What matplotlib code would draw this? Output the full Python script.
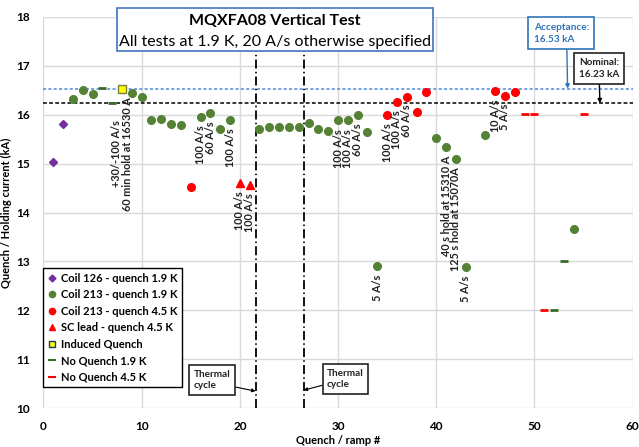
import matplotlib
matplotlib.use("Agg")
import matplotlib.pyplot as plt
from matplotlib.lines import Line2D
from matplotlib.patches import Rectangle

plt.rcParams['font.family'] = ['Lato', 'DejaVu Sans']

# ---- data ----
coil126_x = [1, 2]
coil126_y = [15.03, 15.81]

coil213_19_x = [3, 4, 5, 9, 10, 11, 12, 13, 14, 16, 17, 18, 19, 22, 23, 24, 25, 26,
                27, 28, 29, 30, 31, 32, 33, 34, 40, 41, 42, 43, 45, 54]
coil213_19_y = [16.32, 16.50, 16.42, 16.45, 16.37, 15.88, 15.91, 15.81, 15.78, 15.95,
                16.04, 15.71, 15.89, 15.71, 15.74, 15.74, 15.75, 15.74, 15.83, 15.71,
                15.67, 15.88, 15.88, 16.00, 15.65, 12.91, 15.52, 15.33, 15.09, 12.89,
                15.58, 13.66]

coil213_45_x = [15, 35, 36, 37, 38, 39, 46, 47, 48]
coil213_45_y = [14.52, 15.99, 16.26, 16.37, 16.06, 16.46, 16.48, 16.39, 16.47]

sclead_x = [20, 21]
sclead_y = [14.61, 14.56]

induced_x = [8]
induced_y = [16.53]

noq19_x = [6, 7, 52, 53]
noq19_y = [16.54, 16.23, 12.0, 13.0]

noq45_x = [49, 50, 51, 55]
noq45_y = [16.01, 16.01, 12.0, 16.01]

acceptance = 16.53
nominal = 16.23
thermal_cycles = [21.6, 26.5]

label_texts = ["+30/-100 A/s\n60 min hold at 16530 A", "100 A/s", "60 A/s", "100 A/s",
               "100 A/s", "100 A/s", "100 A/s", "100 A/s", "60 A/s", "5 A/s",
               "100 A/s", "100 A/s", "60 A/s", "40 s hold at 15310 A",
               "125 s hold at 15070A", "5 A/s", "10 A/s", "5 A/s"]
label_x = [8, 16, 17, 19, 20, 21, 30, 31, 32, 34, 35, 36, 37, 41, 42, 43, 46, 47]
label_y = [16.53, 15.95, 16.04, 15.89, 14.61, 14.56, 15.88, 15.88, 16.00, 12.91,
           15.99, 16.26, 16.37, 15.33, 15.09, 12.89, 16.48, 16.39]

xticks = [0, 10, 20, 30, 40, 50, 60]
yticks = [10, 11, 12, 13, 14, 15, 16, 17, 18]

# ---- colours ----
purple = '#7030A0'
green = '#548235'
red = '#FF0000'
blue_line = '#4A8AD8'

fig = plt.figure(figsize=(6.39, 4.47), dpi=100)
ax = fig.add_axes([0.068, 0.0866, 0.922, 0.876])

ax.set_xlim(0, 60)
ax.set_ylim(10, 18)
ax.set_xticks(xticks)
ax.set_yticks(yticks)
ax.grid(True, color='#D9D9D9', lw=1)
ax.set_axisbelow(True)
for s in ax.spines.values():
    s.set_visible(False)
ax.tick_params(length=0, labelsize=8.5)
ax.tick_params(axis='y', pad=10)
ax.tick_params(axis='x', pad=9)
for t in ax.get_xticklabels() + ax.get_yticklabels():
    t.set_fontweight('bold')
ax.set_xlabel('Quench / ramp #', fontsize=8, fontweight='bold', labelpad=2)
ax.set_ylabel('Quench / Holding current (kA)', fontsize=8, fontweight='bold', labelpad=3)

# reference lines
ax.axhline(acceptance, color=blue_line, lw=1.1, ls=(0, (2, 1.5)), zorder=2)
ax.axhline(nominal, color='black', lw=1.1, ls=(0, (2.5, 1.5)), zorder=2)
for xv in thermal_cycles:
    ax.axvline(xv, color='black', lw=1.3, ls=(0, (5, 1.8, 0.8, 1.8)), zorder=2)

# data
ax.plot(coil126_x, coil126_y, ls='none', marker='D', ms=4.2, color=purple, zorder=4)
ax.plot(coil213_19_x, coil213_19_y, ls='none', marker='o', ms=5.5, color=green, zorder=4)
ax.plot(coil213_45_x, coil213_45_y, ls='none', marker='o', ms=5.5, color=red, zorder=4)
ax.plot(sclead_x, sclead_y, ls='none', marker='^', ms=6, color=red, zorder=4)
ax.plot(induced_x, induced_y, ls='none', marker='s', ms=5.5, mfc='#FFFF00',
        mec='#7F7F3F', mew=1.0, zorder=5)
ax.plot(noq19_x, noq19_y, ls='none', marker='_', ms=6, mew=2, color='#3A6B28', zorder=4)
ax.plot(noq45_x, noq45_y, ls='none', marker='_', ms=6, mew=2, color=red, zorder=4)

# data labels (rotated, below points)
for txt, lx, ly in zip(label_texts, label_x, label_y):
    ax.annotate(txt, xy=(lx, ly), xytext=(0, -6), textcoords='offset points',
                rotation=90, ha='center', va='top', multialignment='center',
                fontsize=7.8, fontweight='bold', color='#222222',
                linespacing=0.95, zorder=6)

# title box
fig.text(0.4305, 0.9535, 'MQXFA08 Vertical Test', ha='center', va='center',
         fontsize=11.5, fontweight='bold', zorder=10)
fig.text(0.4305, 0.906, 'All tests at 1.9 K, 20 A/s otherwise specified',
         ha='center', va='center', fontsize=11.5, zorder=10)
fig.patches.append(Rectangle((117 / 639, 1 - 51 / 447), (433 - 117) / 639, 43 / 447,
                             transform=fig.transFigure, facecolor='white',
                             edgecolor='#4472C4', lw=1.2, zorder=9))

# acceptance / nominal boxes
ax.annotate('Acceptance:\n16.53 kA', xy=(53.38, acceptance), xytext=(52.73, 17.66),
            ha='center', va='center', fontsize=7.2, fontweight='bold', color='#2E75B6',
            multialignment='left', linespacing=1.4,
            bbox=dict(boxstyle='square,pad=0.55', fc='white', ec='#2E75B6', lw=1.2),
            arrowprops=dict(arrowstyle='-|>', color='#2E75B6', lw=1.0, mutation_scale=6,
                            relpos=(0.6, 0), shrinkA=0, shrinkB=0), zorder=7)
ax.annotate('Nominal:\n16.23 kA', xy=(56.67, nominal), xytext=(56.6, 16.95),
            ha='center', va='center', fontsize=7.2, fontweight='bold', color='#222222',
            multialignment='left', linespacing=1.4,
            bbox=dict(boxstyle='square,pad=0.5', fc='white', ec='#222222', lw=1.2),
            arrowprops=dict(arrowstyle='-|>', color='black', lw=1.0, mutation_scale=6,
                            relpos=(0.5, 0), shrinkA=0, shrinkB=0), zorder=7)

# thermal cycle boxes
ax.annotate('Thermal\ncycle', xy=(thermal_cycles[0], 10.35), xytext=(17.2, 10.58),
            ha='center', va='center', fontsize=7.2, fontweight='bold', color='#222222',
            multialignment='left', linespacing=1.35,
            bbox=dict(boxstyle='square,pad=0.45', fc='white', ec='#222222', lw=1.2),
            arrowprops=dict(arrowstyle='-|>', color='black', lw=0.8, mutation_scale=5,
                            relpos=(1, 0.2), shrinkA=0, shrinkB=0), zorder=7)
ax.annotate('Thermal\ncycle', xy=(thermal_cycles[1], 10.37), xytext=(30.75, 10.6),
            ha='center', va='center', fontsize=7.2, fontweight='bold', color='#222222',
            multialignment='left', linespacing=1.35,
            bbox=dict(boxstyle='square,pad=0.45', fc='white', ec='#222222', lw=1.2),
            arrowprops=dict(arrowstyle='-|>', color='black', lw=0.8, mutation_scale=5,
                            relpos=(0, 0.25), shrinkA=0, shrinkB=0), zorder=7)

# legend
handles = [
    Line2D([], [], ls='none', marker='D', ms=3.5, color=purple),
    Line2D([], [], ls='none', marker='o', ms=4.5, color=green),
    Line2D([], [], ls='none', marker='o', ms=4.5, color=red),
    Line2D([], [], ls='none', marker='^', ms=4.5, color=red),
    Line2D([], [], ls='none', marker='s', ms=4.5, mfc='#FFFF00', mec='#1F3864', mew=1),
    Line2D([], [], ls='none', marker='_', ms=6, mew=1.5, color='#3A6B28'),
    Line2D([], [], ls='none', marker='_', ms=6, mew=1.5, color=red),
]
labels = ['Coil 126 - quench 1.9 K', 'Coil 213 - quench 1.9 K', 'Coil 213 - quench 4.5 K',
          'SC lead - quench 4.5 K', 'Induced Quench', 'No Quench 1.9 K', 'No Quench 4.5 K']
leg = ax.legend(handles, labels, loc='upper left', bbox_to_anchor=(0.0, 0.358),
                prop={'weight': 'bold', 'size': 8}, frameon=True,
                fancybox=False, edgecolor='black', framealpha=1, borderpad=0.4,
                labelspacing=0.5, handlelength=0.8, handletextpad=0.4, borderaxespad=0)
leg.get_frame().set_linewidth(1.0)
leg.set_zorder(8)

fig.savefig('out.png', dpi=100)
